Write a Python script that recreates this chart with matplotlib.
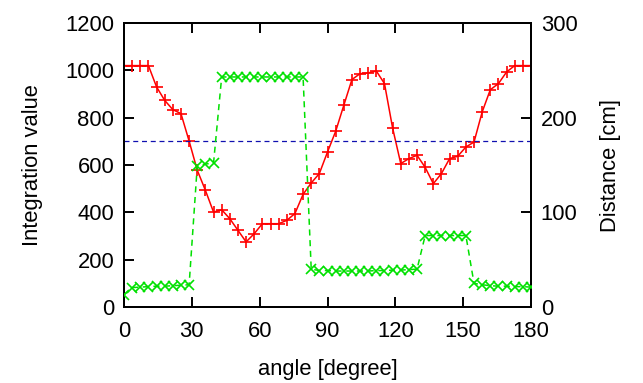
import numpy as np
import matplotlib
matplotlib.use("Agg")
import matplotlib.pyplot as plt

plt.rcParams["font.family"] = ["Liberation Sans", "DejaVu Sans"]

# ---------- DATA ----------
# 51 samples, one every 3.6 degrees
angle = np.linspace(0, 180, 51)

integration = [
    1020, 1020, 1020, 1020, 930, 873, 834, 817, 701, 578,
    493, 401, 411, 373, 324, 275, 310, 352, 352, 352,
    366, 395, 476, 524, 564, 655, 742, 852, 961, 986,
    989, 997, 944, 756, 606, 627, 641, 590, 521, 564,
    627, 637, 676, 697, 824, 918, 944, 993, 1020, 1020,
    1020,
]

distance = [
    13, 20.5, 21, 21.5, 22, 22, 22.5, 23, 23.5, 149,
    151, 152, 243, 243, 243, 243, 243, 243, 243, 243,
    243, 243, 243, 40, 38.5, 38.5, 38, 38, 38, 38,
    38, 38.5, 38.5, 39, 39, 39.5, 40, 75.5, 75.5, 75.5,
    75.5, 75.5, 75.5, 25, 23.5, 22.5, 22, 22, 21.5, 21.5,
    21,
]

threshold = 700

x_ticks = [0, 30, 60, 90, 120, 150, 180]
left_ticks = [0, 200, 400, 600, 800, 1000, 1200]
right_ticks = [0, 100, 200, 300]

# ---------- COLORS ----------
RED = "#ff0000"
GREEN = "#00e000"
BLUE = "#1010b0"

FS = 15.8

fig = plt.figure(figsize=(6.43, 3.83), dpi=100)
ax = fig.add_axes([124 / 643, 76 / 383, 407 / 643, 284 / 383])
ax2 = ax.twinx()

ax.plot(angle, integration, color=RED, linewidth=1.1, marker="+",
        markersize=9, markeredgewidth=1.2, zorder=3)
ax2.plot(angle, distance, color=GREEN, linewidth=1.1, linestyle=(0, (4, 3)),
         marker="x", markersize=7, markeredgewidth=1.2, zorder=3)
ax.axhline(threshold, color=BLUE, linewidth=0.9, linestyle=(0, (4, 3)), zorder=4)

ax.set_xlim(0, 180)
ax.set_ylim(0, 1200)
ax2.set_ylim(0, 300)
ax.set_xticks(x_ticks)
ax.set_yticks(left_ticks)
ax2.set_yticks(right_ticks)

ax.tick_params(axis="y", direction="in", length=7, width=1.4,
               labelsize=FS, right=False, pad=7)
ax.tick_params(axis="x", direction="in", length=7, width=1.4,
               labelsize=FS, top=True, pad=10)
ax2.tick_params(axis="y", direction="in", length=7, width=1.4,
                labelsize=FS, left=False, pad=7)

for a in (ax, ax2):
    for spine in a.spines.values():
        spine.set_linewidth(1.4)

ax.set_xlabel("angle [degree]", fontsize=FS, labelpad=12)
ax.set_ylabel("Integration value", fontsize=FS, labelpad=16)
ax2.set_ylabel("Distance [cm]", fontsize=FS, labelpad=16)

fig.savefig("out.png", dpi=100)
plt.close(fig)
